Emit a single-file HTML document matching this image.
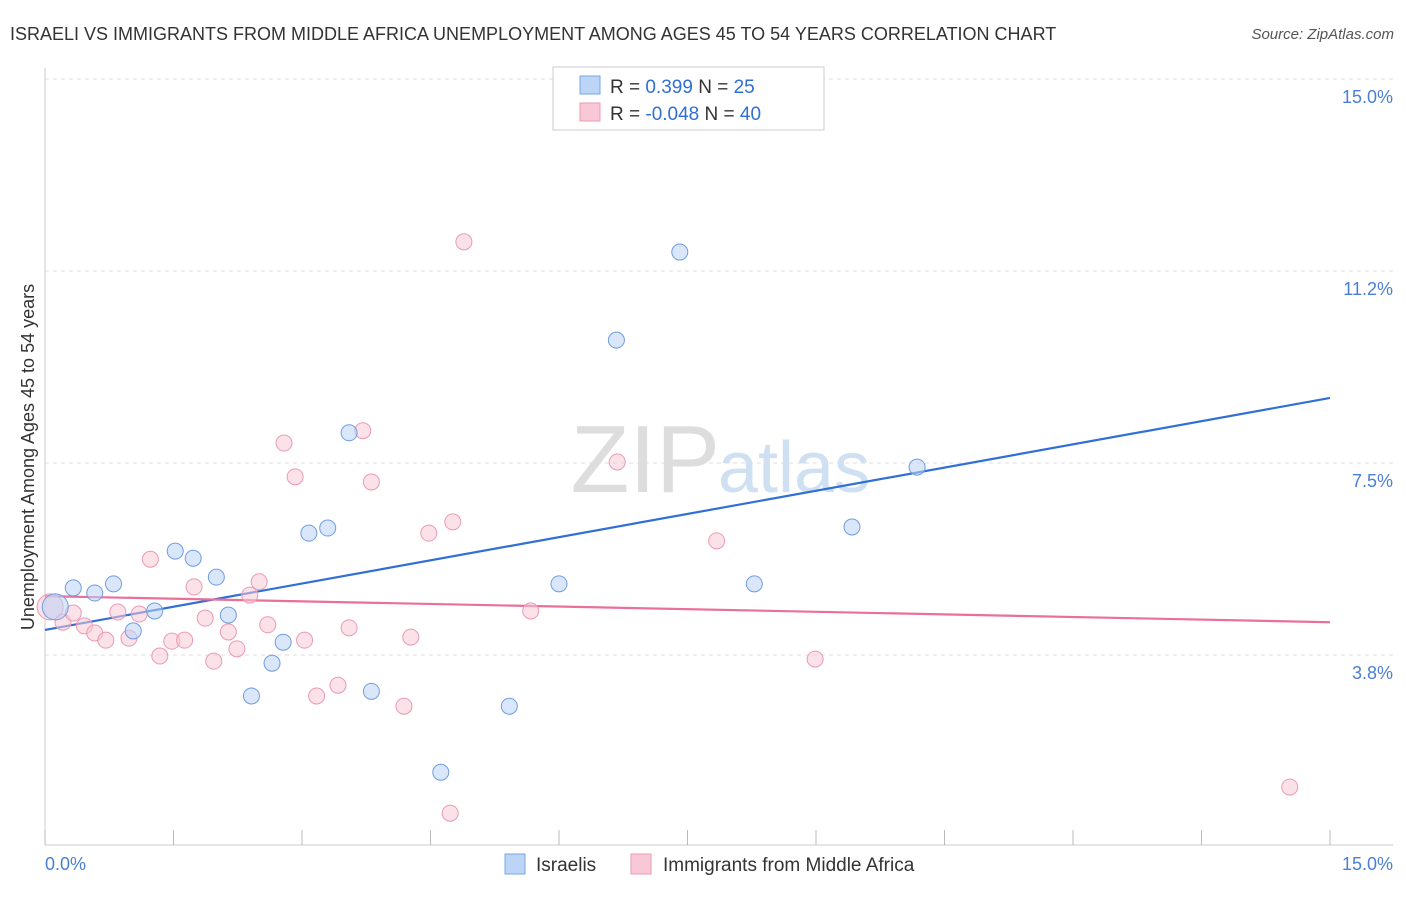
<!DOCTYPE html>
<html><head><meta charset="utf-8"><style>
body{margin:0;background:#fff;font-family:"Liberation Sans",sans-serif;}
svg text{font-family:"Liberation Sans",sans-serif;}
</style></head><body>
<svg width="1406" height="892">
<text x="10" y="40" font-size="18" fill="#333">ISRAELI VS IMMIGRANTS FROM MIDDLE AFRICA UNEMPLOYMENT AMONG AGES 45 TO 54 YEARS CORRELATION CHART</text>
<text x="1394" y="39" font-size="15" fill="#555" text-anchor="end" font-style="italic">Source: ZipAtlas.com</text>
<g id="grid"></g>
<text x="720" y="492" font-size="96" fill="#ddd" text-anchor="end" font-family="Liberation Serif">ZIP</text>
<text x="718" y="492" font-size="72" fill="#cfe0f3">atlas</text>
<line x1="45" y1="68" x2="45" y2="845" stroke="#ccc"/>
<line x1="45" y1="845" x2="1393" y2="845" stroke="#ccc"/>
<g id="ticks"></g>
<g id="lines"></g>
<g id="points"></g>
<text x="45" y="870" font-size="18" fill="#4a7fd4">0.0%</text>
<text x="1393" y="870" font-size="18" fill="#4a7fd4" text-anchor="end">15.0%</text>
<text transform="translate(34,457) rotate(-90)" font-size="18" fill="#333" text-anchor="middle">Unemployment Among Ages 45 to 54 years</text>
<g>
<rect x="553" y="67" width="271" height="63" fill="#fff" stroke="#ccc"/>
<rect x="580" y="76" width="20" height="18" fill="#bcd4f5" stroke="#7aa6e3"/>
<rect x="580" y="103" width="20" height="18" fill="#f8c8d6" stroke="#eb9ab4"/>
<text x="610" y="93" font-size="19" fill="#333">R = <tspan fill="#2f6fd6">  0.399</tspan>   N = <tspan fill="#2f6fd6"> 25</tspan></text>
<text x="610" y="120" font-size="19" fill="#333">R = <tspan fill="#2f6fd6">-0.048</tspan>   N = <tspan fill="#2f6fd6">40</tspan></text>
</g>
<g>
<rect x="505" y="854" width="20" height="20" fill="#bcd4f5" stroke="#7aa6e3"/>
<text x="536" y="871" font-size="19" fill="#333">Israelis</text>
<rect x="631" y="854" width="20" height="20" fill="#f8c8d6" stroke="#eb9ab4"/>
<text x="663" y="871" font-size="19" fill="#333">Immigrants from Middle Africa</text>
</g>
</svg>
<script>
const yTicks=[3.75,7.5,11.25,15];
const yTickLabels=["3.8%","7.5%","11.2%","15.0%"];
const xTicks=[0,1.5,3,4.5,6,7.5,9,10.5,12,13.5,15];
const blueX=[0.12,0.33,0.58,0.80,1.03,1.28,1.52,1.73,2.00,2.14,2.41,2.65,2.78,3.08,3.30,3.55,3.81,4.62,5.42,6.00,6.67,7.41,8.28,9.42,10.18];
const blueY=[4.69,5.06,4.96,5.14,4.22,4.61,5.78,5.64,5.27,4.53,2.95,3.59,4.00,6.13,6.23,8.09,3.04,1.46,2.75,5.14,9.90,11.62,5.14,6.25,7.42];
const pinkX=[0.06,0.21,0.33,0.46,0.58,0.71,0.85,0.98,1.10,1.23,1.34,1.48,1.63,1.74,1.87,1.97,2.14,2.24,2.39,2.50,2.60,2.79,2.92,3.03,3.17,3.42,3.55,3.71,3.81,4.19,4.27,4.48,4.73,4.76,4.89,5.67,6.68,7.84,8.99,14.53];
const pinkY=[4.69,4.39,4.57,4.32,4.18,4.04,4.59,4.08,4.55,5.62,3.73,4.02,4.04,5.08,4.47,3.63,4.20,3.87,4.92,5.18,4.34,7.89,7.23,4.04,2.95,3.16,4.28,8.13,7.13,2.75,4.10,6.13,0.66,6.35,11.82,4.61,7.52,5.98,3.67,1.17];
const blueLine=[4.24,8.77];
const pinkLine=[4.90,4.39];
const NS="http://www.w3.org/2000/svg";
const sx=v=>45+v*(1285/15);
const sy=v=>847-v*51.2;
function mk(t,a,p){const e=document.createElementNS(NS,t);for(const k in a)e.setAttribute(k,a[k]);p.appendChild(e);return e;}
const grid=document.getElementById('grid');
yTicks.forEach((t,i)=>{
 const l=mk('line',{x1:45,x2:1393,y1:sy(t),y2:sy(t),stroke:'#ddd','stroke-dasharray':'4,4'},grid);
 
 
 const tx=mk('text',{x:1393,y:sy(t)+24,'font-size':18,fill:'#4a7fd4','text-anchor':'end'},grid);
 tx.textContent=yTickLabels[i];
 
 
});
const ticks=document.getElementById('ticks');
xTicks.forEach(t=>{
 const l=mk('line',{x1:sx(t),x2:sx(t),y1:830,y2:845,stroke:'#bbb'},ticks);
 
 
});
const lines=document.getElementById('lines');
const pts=document.getElementById('points');
function series(X,Y,fill,stroke,name){
 X.forEach((x,i)=>{
  const c=mk('circle',{cx:sx(x),cy:sy(Y[i]),r:i===0?13:8,fill:fill,stroke:stroke,'stroke-width':1,'fill-opacity':0.55},pts);
  
  
 });
}
series(pinkX,pinkY,'#f8c8d6','#eb9ab4','point-immigrants');
series(blueX,blueY,'#bcd4f5','#6f9de0','point-israelis');
const bl=mk('line',{x1:sx(0),y1:sy(blueLine[0]),x2:sx(15),y2:sy(blueLine[1]),stroke:'#2f6fd6','stroke-width':2.2},lines);


const pl=mk('line',{x1:sx(0),y1:sy(pinkLine[0]),x2:sx(15),y2:sy(pinkLine[1]),stroke:'#e8709a','stroke-width':2.2},lines);


</script>
</body></html>
